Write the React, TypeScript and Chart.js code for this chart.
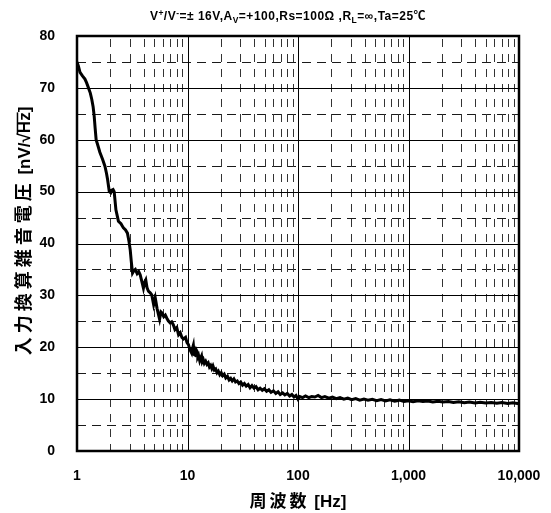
import { useEffect, useRef } from 'react';
import { Chart, registerables } from 'chart.js';

Chart.register(...registerables);

// Frequency [Hz]
const FREQ_HZ: number[] = [
  1, 1.03, 1.065, 1.12, 1.18, 1.22, 1.27, 1.32, 1.36, 1.4,
  1.43, 1.46, 1.49, 1.55, 1.61, 1.7, 1.79, 1.85, 1.89, 1.96,
  2.02, 2.07, 2.12, 2.17, 2.25, 2.37, 2.5, 2.63, 2.75, 2.86,
  2.95, 3.03, 3.1, 3.18, 3.28, 3.37, 3.5, 3.62, 3.73, 3.85,
  3.99, 4.08, 4.19, 4.3, 4.43, 4.6, 4.75, 4.94, 5.11, 5.3,
  5.45, 5.59, 5.75, 5.88, 6.1, 6.3, 6.5, 6.7, 6.96, 7.2,
  7.45, 7.7, 8.0, 8.3, 8.6, 8.9, 9.2, 9.6, 9.9, 10.2,
  10.5, 10.9, 11.1, 11.3, 11.5, 11.7, 12.0, 12.2, 12.4, 12.6,
  12.9, 13.1, 13.4, 13.6, 13.9, 14.2, 14.6, 15.0, 15.4, 15.8,
  16.2, 16.6, 17.0, 17.5, 18.0, 18.5, 19.0, 19.6, 20.2, 20.8,
  21.5, 22.2, 23.0, 23.8, 24.6, 25.4, 26.3, 27.2, 28.2, 29.2,
  30.3, 31.5, 32.7, 34.0, 35.4, 36.8, 38.3, 40, 41.7, 43.5,
  45.4, 47.5, 49.6, 52, 54.5, 57, 60, 63, 66, 69,
  72.5, 76, 80, 84, 88, 92, 96, 100, 104, 110,
  117, 125, 133, 142, 152, 163, 175, 190, 205, 222,
  240, 260, 282, 306, 333, 362, 395, 430, 470, 515,
  565, 620, 680, 750, 825, 910, 1000, 1100, 1220, 1350,
  1500, 1660, 1850, 2050, 2300, 2550, 2850, 3200, 3550, 4000,
  4450, 5000, 5600, 6300, 7000, 7900, 8800, 10000,
];

// Input-referred noise voltage [nV/√Hz]
const NOISE_NV: number[] = [
  75, 74.2, 73, 72.3, 71.7, 71.0, 70, 69.0, 67.8, 66.3,
  64.6, 62.2, 60, 58.8, 57.6, 56.3, 54.9, 53.5, 52.4, 50,
  49.8, 50.3, 50.4, 50.0, 46.5, 44.3, 43.8, 43.0, 42.6, 42.0,
  40.5, 38.8, 36.5, 34.3, 34.8, 35.0, 34.2, 34.6, 34.0, 32.8,
  31.4, 32.5, 33.0, 31.5, 30.8, 30.5, 30.1, 28.2, 29.5, 27.5,
  26.4, 25.4, 26.8, 26.6, 25.9, 26.2, 25.6, 25.1, 24.7, 24.9,
  24.3, 23.4, 23.8, 22.4, 22.8, 21.9, 21.6, 21.9, 20.9, 20.5,
  19.6, 18.9, 19.8, 20.4, 18.6, 18.5, 19.5, 19.2, 18.1, 18.4,
  17.4, 17.8, 18.3, 17.2, 17.6, 16.9, 17.3, 16.7, 17.0, 16.2,
  16.5, 15.9, 16.4, 15.6, 15.8, 15.1, 15.4, 14.7, 15.1, 14.5,
  14.8, 14.1, 14.4, 13.7, 14.0, 13.5, 13.9, 13.3, 13.5, 13.0,
  13.3, 12.7, 13.0, 12.5, 12.8, 12.2, 12.6, 12.1, 12.4, 11.8,
  12.1, 11.7, 12.0, 11.5, 11.8, 11.3, 11.6, 11.1, 11.4, 10.9,
  11.2, 10.8, 11.1, 10.6, 10.9, 10.4, 10.7, 10.0, 10.5, 10.3,
  10.6, 10.3, 10.5, 10.4, 10.7, 10.3, 10.5, 10.2, 10.4, 10.1,
  10.3, 10.0, 10.2, 9.9, 10.1, 9.8, 10.0, 9.8, 9.95, 9.7,
  9.9, 9.65, 9.85, 9.6, 9.8, 9.55, 9.7, 9.5, 9.7, 9.55,
  9.65, 9.45, 9.6, 9.45, 9.55, 9.35, 9.5, 9.3, 9.45, 9.25,
  9.4, 9.25, 9.35, 9.2, 9.35, 9.15, 9.3, 9.1,
];

const Y_MIN = 0;
const Y_MAX = 80;
const Y_STEP = 10;
const X_MIN = 1;
const X_MAX = 10000;
const X_LABEL_TICKS: number[] = [1, 10, 100, 1000, 10000];
const Y_SOLID_LINES: number[] = [10, 20, 30, 40, 50, 60, 70];
const Y_DASHED_LINES: number[] = [5, 15, 25, 35, 45, 55, 65, 75];
const X_SOLID_LINES: number[] = [10, 100, 1000];
const X_MINOR_MULTIPLIERS: number[] = [2, 3, 4, 5, 6, 7, 8, 9];
const X_DECADES: number[] = [1, 10, 100, 1000];

type Part = { t: string; m: 'n' | 'sup' | 'sub' };
const TITLE_PARTS: Part[] = [
  { t: 'V', m: 'n' },
  { t: '+', m: 'sup' },
  { t: '/V', m: 'n' },
  { t: '-', m: 'sup' },
  { t: '=± 16V,A', m: 'n' },
  { t: 'V', m: 'sub' },
  { t: '=+100,Rs=100Ω ,R', m: 'n' },
  { t: 'L', m: 'sub' },
  { t: '=∞,Ta=25℃', m: 'n' },
];
const Y_TITLE_CJK = '入力換算雑音電圧';
const X_TITLE_CJK = '周波数';

const FONT_FAMILY = "'Liberation Sans', Arial, 'Noto Sans CJK JP', sans-serif";

const decorPlugin = {
  id: 'decor',
  beforeDatasetsDraw(chart: any) {
    const { ctx, chartArea: a, scales } = chart;
    const xs = scales.x;
    const ys = scales.y;
    ctx.save();
    ctx.lineWidth = 1;
    // dashed horizontal
    ctx.strokeStyle = '#1a1a1a';
    ctx.setLineDash([9, 6]);
    for (const v of Y_DASHED_LINES) {
      const py = Math.round(ys.getPixelForValue(v)) + 0.5;
      ctx.beginPath();
      ctx.moveTo(a.left, py);
      ctx.lineTo(a.right, py);
      ctx.stroke();
    }
    // dashed vertical (minor)
    ctx.strokeStyle = '#333';
    ctx.setLineDash([8, 7]);
    for (const d of X_DECADES) {
      for (const m of X_MINOR_MULTIPLIERS) {
        const px = Math.round(xs.getPixelForValue(d * m)) + 0.5;
        ctx.beginPath();
        ctx.moveTo(px, a.top + 3);
        ctx.lineTo(px, a.bottom);
        ctx.stroke();
      }
    }
    // solid lines
    ctx.setLineDash([]);
    ctx.strokeStyle = '#000';
    for (const v of Y_SOLID_LINES) {
      const py = Math.round(ys.getPixelForValue(v)) + 0.5;
      ctx.beginPath();
      ctx.moveTo(a.left, py);
      ctx.lineTo(a.right, py);
      ctx.stroke();
    }
    for (const v of X_SOLID_LINES) {
      const px = Math.round(xs.getPixelForValue(v)) + 0.5;
      ctx.beginPath();
      ctx.moveTo(px, a.top);
      ctx.lineTo(px, a.bottom);
      ctx.stroke();
    }
    ctx.restore();
  },
  afterDraw(chart: any) {
    const { ctx, chartArea: a } = chart;
    ctx.save();
    // frame
    ctx.strokeStyle = '#000';
    ctx.lineWidth = 2.5;
    ctx.strokeRect(a.left, a.top, a.right - a.left, a.bottom - a.top);

    ctx.fillStyle = '#000';
    // chart title with sub/superscripts
    const size = 12;
    const small = 8.5;
    const cx = (a.left + a.right) / 2 - 10;
    const base = 20;
    (ctx as any).letterSpacing = '0.5px';
    let total = 0;
    const widths: number[] = [];
    for (const p of TITLE_PARTS) {
      ctx.font = `bold ${p.m === 'n' ? size : small}px ${FONT_FAMILY}`;
      const w = ctx.measureText(p.t).width;
      widths.push(w);
      total += w;
    }
    let x = cx - total / 2;
    ctx.textAlign = 'left';
    ctx.textBaseline = 'alphabetic';
    TITLE_PARTS.forEach((p, i) => {
      ctx.font = `bold ${p.m === 'n' ? size : small}px ${FONT_FAMILY}`;
      const dy = p.m === 'sup' ? -4.5 : p.m === 'sub' ? 3 : 0;
      ctx.fillText(p.t, x, base + dy);
      x += widths[i];
    });
    (ctx as any).letterSpacing = '0px';

    // x axis title
    const xs = 17;
    const xPitch = 20;
    ctx.font = `bold ${xs}px ${FONT_FAMILY}`;
    const xLatin = ' [Hz]';
    const xLatinW = ctx.measureText(xLatin).width;
    const xTotal = X_TITLE_CJK.length * xPitch + xLatinW;
    let tx = (a.left + a.right) / 2 - xTotal / 2;
    const xBase = 501 + xs * 0.36;
    ctx.font = `bold ${xs}px 'Noto Sans CJK JP', sans-serif`;
    for (const ch of X_TITLE_CJK) {
      ctx.fillText(ch, tx, xBase);
      tx += xPitch;
    }
    ctx.font = `bold ${xs}px ${FONT_FAMILY}`;
    ctx.fillText(xLatin, tx, xBase);

    // y axis title (rotated)
    const ysz = 18;
    const yPitch = 22;
    ctx.translate(24, 231);
    ctx.rotate(-Math.PI / 2);
    ctx.font = `bold 17px ${FONT_FAMILY}`;
    const p1 = ' [nV/';
    const p2 = '√';
    const p3 = 'Hz';
    const p4 = ']';
    const w1 = ctx.measureText(p1).width;
    const w2 = ctx.measureText(p2).width;
    const w3 = ctx.measureText(p3).width;
    const w4 = ctx.measureText(p4).width;
    const yTotal = Y_TITLE_CJK.length * yPitch + w1 + w2 + w3 + w4;
    let ty = -yTotal / 2;
    const yBase = ysz * 0.36;
    ctx.font = `bold ${ysz}px 'Noto Sans CJK JP', sans-serif`;
    for (const ch of Y_TITLE_CJK) {
      ctx.fillText(ch, ty, yBase);
      ty += yPitch;
    }
    ctx.font = `bold 17px ${FONT_FAMILY}`;
    ctx.fillText(p1, ty, yBase);
    ty += w1;
    ctx.fillText(p2, ty, yBase);
    ty += w2;
    const barStart = ty - 1;
    ctx.fillText(p3, ty, yBase);
    ty += w3;
    ctx.lineWidth = 1.5;
    ctx.beginPath();
    ctx.moveTo(barStart, yBase - 13);
    ctx.lineTo(ty, yBase - 13);
    ctx.stroke();
    ctx.fillText(p4, ty, yBase);
    ctx.restore();
  },
};

export default function App() {
  const ref = useRef<HTMLCanvasElement | null>(null);

  useEffect(() => {
    document.body.style.margin = '0';
    const canvas = ref.current;
    if (!canvas) return;
    const points = FREQ_HZ.map((f, i) => ({ x: f, y: NOISE_NV[i] }));
    const chart = new Chart(canvas, {
      type: 'line',
      data: {
        datasets: [
          {
            data: points,
            borderColor: '#000',
            borderWidth: 3,
            pointRadius: 0,
            tension: 0,
            fill: false,
          },
        ],
      },
      options: {
        animation: false,
        responsive: false,
        maintainAspectRatio: false,
        layout: { padding: { top: 36, right: 32, left: 0, bottom: 0 } },
        plugins: {
          legend: { display: false },
          tooltip: { enabled: false },
          title: { display: false },
        },
        scales: {
          x: {
            type: 'logarithmic',
            min: X_MIN,
            max: X_MAX,
            grid: { display: false },
            border: { display: false },
            afterBuildTicks: (scale: any) => {
              scale.ticks = X_LABEL_TICKS.map((v) => ({ value: v }));
            },
            afterFit: (scale: any) => {
              scale.height = 62;
            },
            ticks: {
              autoSkip: false,
              maxRotation: 0,
              padding: 9,
              color: '#000',
              font: { family: FONT_FAMILY, size: 14, weight: 'bold' },
              callback: (v: any) => Number(v).toLocaleString('en-US'),
            },
          },
          y: {
            type: 'linear',
            min: Y_MIN,
            max: Y_MAX,
            grid: { display: false, drawTicks: false },
            border: { display: false },
            afterFit: (scale: any) => {
              scale.width = 77;
            },
            ticks: {
              stepSize: Y_STEP,
              padding: 22,
              color: '#000',
              font: { family: FONT_FAMILY, size: 14, weight: 'bold' },
            },
          },
        },
      },
      plugins: [decorPlugin],
    } as any);
    return () => chart.destroy();
  }, []);

  return (
    <div style={{ width: 551, height: 513 }}>
      <canvas ref={ref} width={551} height={513} style={{ display: 'block' }} />
    </div>
  );
}
